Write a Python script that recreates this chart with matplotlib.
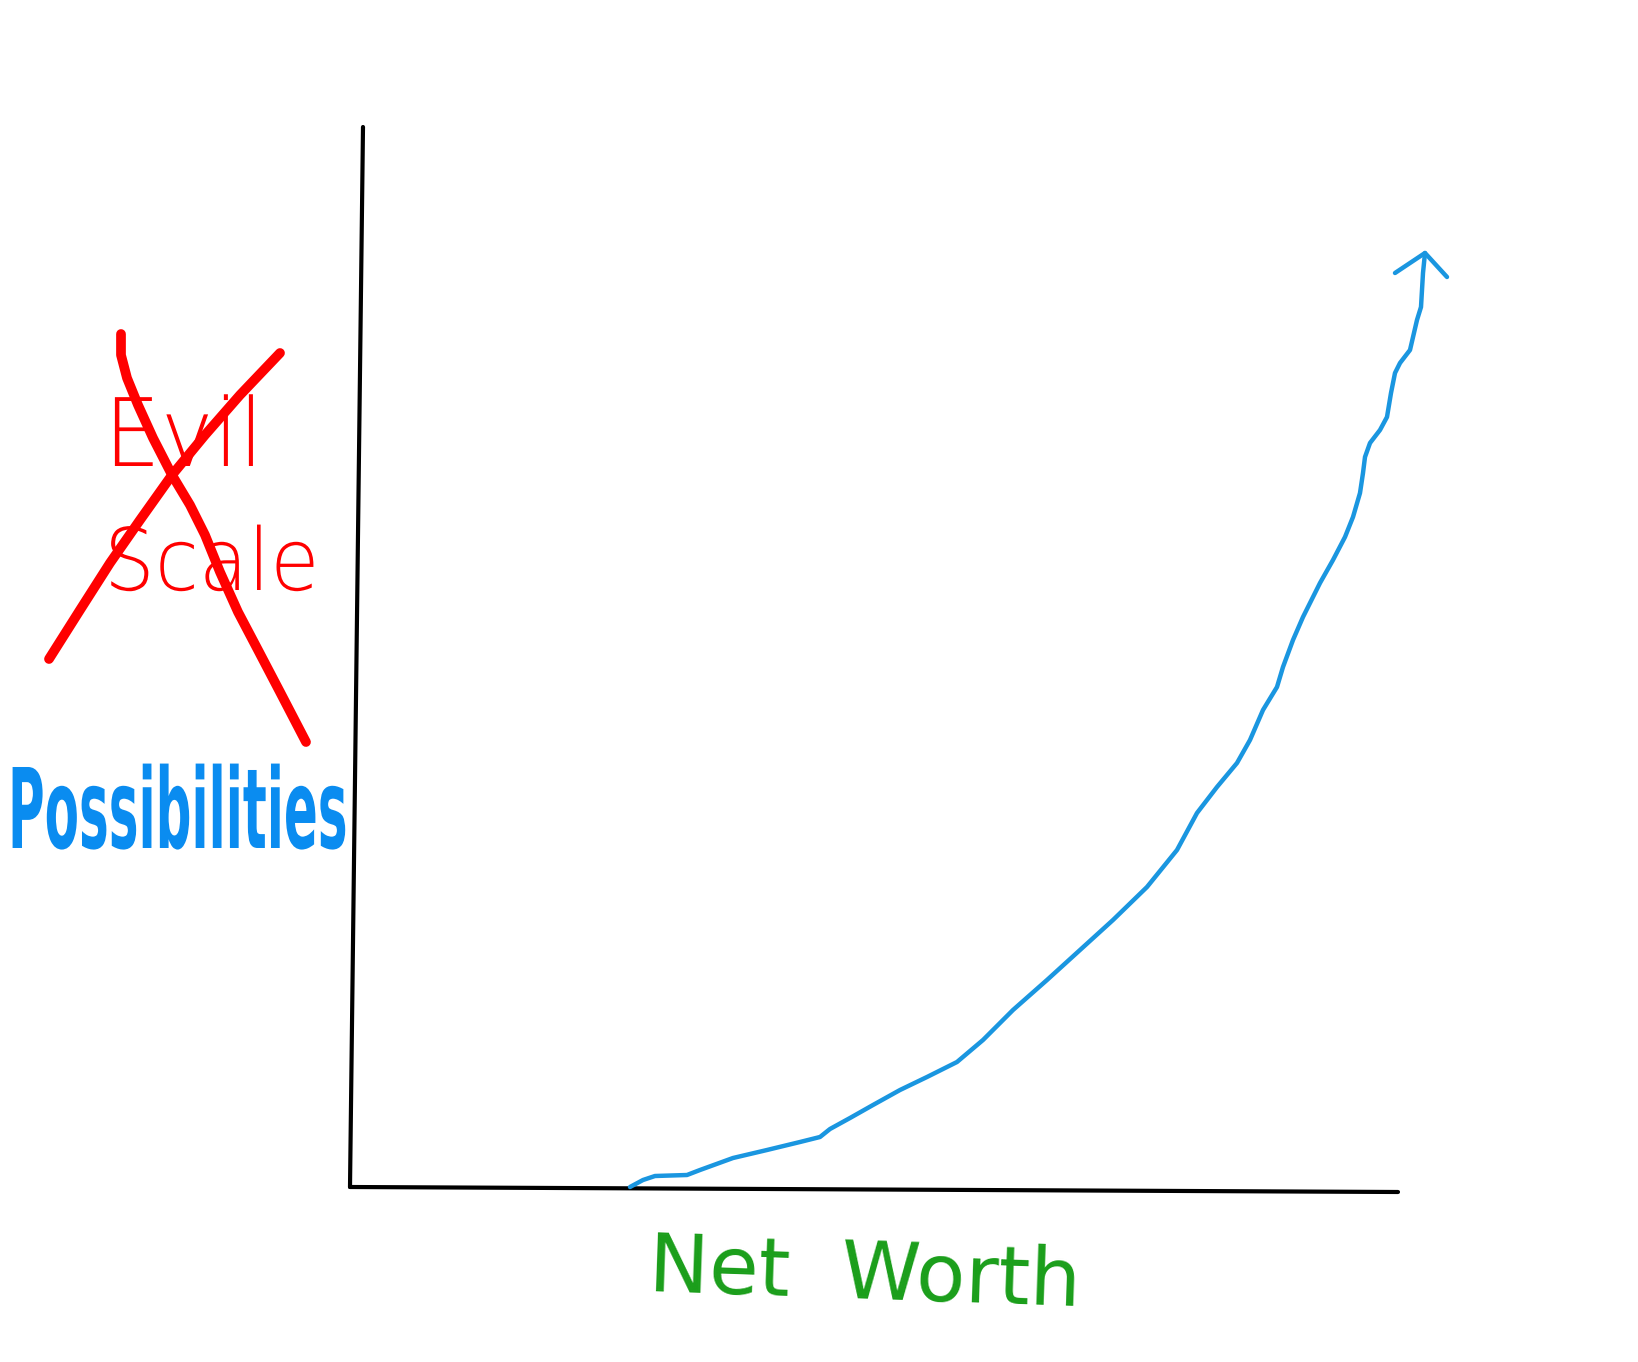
import matplotlib
matplotlib.use("Agg")
import matplotlib.pyplot as plt
from matplotlib.patheffects import AbstractPathEffect
from matplotlib.transforms import Affine2D

# Hand-drawn chart, values read in image pixel units (full size 1638x1362)
yaxis_x = [363, 350]
yaxis_y = [127, 1187]
xaxis_x = [350, 1398]
xaxis_y = [1187, 1192]

curve_x = [630, 643, 655, 687, 700, 733, 767, 800, 820, 830, 850, 873, 900,
           927, 957, 983, 1013, 1047, 1080, 1113, 1147, 1177, 1197, 1217,
           1237, 1250, 1263, 1277, 1283, 1293, 1303, 1320, 1333, 1345, 1353,
           1360, 1363, 1365, 1370, 1380, 1387, 1391, 1395, 1400, 1410, 1417,
           1421, 1423, 1425]
curve_y = [1187, 1180, 1176, 1175, 1170, 1158, 1150, 1142, 1137, 1129, 1118,
           1105, 1090, 1077, 1062, 1040, 1010, 980, 950, 920, 887, 850, 813,
           787, 763, 740, 710, 687, 667, 640, 617, 583, 560, 537, 517, 493,
           473, 457, 443, 430, 417, 393, 373, 363, 350, 320, 307, 273, 253]
arrow_x = [1395, 1425, 1447]
arrow_y = [273, 253, 277]

cross1_x = [121, 121, 127, 138, 153, 172, 190, 205, 220, 238, 258, 280, 306]
cross1_y = [334, 355, 378, 405, 438, 475, 505, 535, 572, 612, 650, 692, 742]
cross2_x = [280, 240, 205, 172, 140, 110, 80, 49]
cross2_y = [353, 395, 435, 475, 520, 563, 610, 659]


class Squash(AbstractPathEffect):
    """Scale a text path about its own anchor (keeps the text a Text)."""

    def __init__(self, sx=1.0, sy=1.0):
        super().__init__()
        self.sx, self.sy = sx, sy

    def draw_path(self, renderer, gc, tpath, affine, rgbFace=None):
        x0, y0 = affine.transform((0, 0))
        new = affine + Affine2D().translate(-x0, -y0).scale(
            self.sx, self.sy).translate(x0, y0)
        renderer.draw_path(gc, tpath, new, rgbFace)


W, H = 1638, 1362
fig = plt.figure(figsize=(W / 100, H / 100), dpi=100)
ax = fig.add_axes([0, 0, 1, 1])
ax.set_xlim(0, W)
ax.set_ylim(H, 0)
ax.axis("off")

black = "#000000"
blue = "#1a96e0"
red = "#ff0000"
green = "#1a9e1a"

ax.plot(yaxis_x, yaxis_y, color=black, lw=3.0, solid_capstyle="round")
ax.plot(xaxis_x, xaxis_y, color=black, lw=3.0, solid_capstyle="round")
ax.plot(curve_x, curve_y, color=blue, lw=3.2, solid_capstyle="round",
        solid_joinstyle="round")
ax.plot(arrow_x, arrow_y, color=blue, lw=3.2, solid_capstyle="round",
        solid_joinstyle="round")

# Crossed-out label
ax.text(104, 466, "Evil", color=red, fontsize=68, fontweight="light",
        family=["DejaVu Sans"], ha="left", va="baseline",
        path_effects=[Squash(0.95, 1.0)])
ax.text(104, 590, "Scale", color=red, fontsize=62, fontweight="light",
        family=["DejaVu Sans"], ha="left", va="baseline",
        path_effects=[Squash(0.93, 1.0)])
ax.plot(cross1_x, cross1_y, color=red, lw=7.0, solid_capstyle="round",
        solid_joinstyle="round")
ax.plot(cross2_x, cross2_y, color=red, lw=7.0, solid_capstyle="round",
        solid_joinstyle="round")

ax.text(8, 848, "Possibilities", color="#0a8cf0", fontsize=80,
        fontweight="bold", family=["DejaVu Sans"], ha="left",
        va="baseline", path_effects=[Squash(0.45, 1.0)])

ax.text(865, 1277, "Net  Worth", color=green, fontsize=58, rotation=-2,
        family=["DejaVu Sans"], ha="center", va="center",
        rotation_mode="anchor")

fig.savefig("out.png", dpi=100, facecolor="white")
